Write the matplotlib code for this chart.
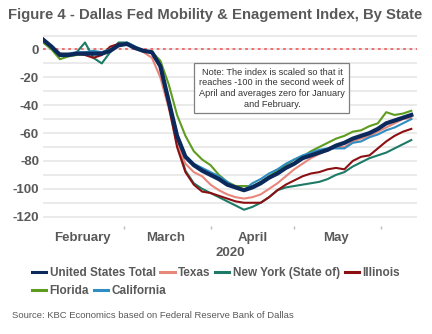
import numpy as np
import pandas as pd
import matplotlib
matplotlib.use("Agg")
import matplotlib.pyplot as plt
from matplotlib.lines import Line2D

# Data (every 3 days, starting Feb 1 2020)
dates = pd.date_range("2020-02-01", periods=45, freq="3D")

us_total = [7, 2, -4, -4, -3, -3, -3, -3, -1, 3, 4, 1, -1, -2, -12, -37, -62, -77, -83, -87,
            -90, -93, -97, -99, -101, -99, -96, -92, -89, -85, -82, -78, -76, -74, -72, -69,
            -67, -64, -62, -60, -57, -53, -51, -49, -47]
texas = [6, 2, -3, -4, -3, -2, -3, -3, 0, 3, 4, 1, -2, -6, -20, -42, -68, -82, -88, -91,
         -97, -101, -104, -106, -107, -106, -104, -100, -96, -91, -86, -82, -78, -75, -72, -70,
         -70, -66, -64, -62, -59, -56, -53, -50, -49]
new_york = [5, 1, -4, -4, -2, 5, -6, -10, -2, 5, 5, 2, -1, -2, -10, -38, -66, -87, -96, -100,
            -103, -106, -109, -112, -115, -113, -110, -106, -101, -99, -98, -97, -96, -95, -93, -90,
            -88, -84, -81, -78, -76, -74, -71, -68, -65]
illinois = [6, 2, -3, -3, -3, -4, -6, -4, 2, 4, 4, 1, -1, -2, -12, -40, -70, -88, -97, -102,
            -103, -105, -107, -109, -110, -110, -110, -106, -101, -97, -94, -91, -89, -88, -86, -85,
            -86, -80, -77, -76, -71, -66, -62, -59, -57]
florida = [5, 0, -7, -5, -4, -3, -3, -2, 0, 3, 4, 1, -1, -2, -8, -25, -47, -62, -73, -79,
           -83, -90, -95, -98, -98, -98, -95, -91, -87, -83, -79, -77, -73, -70, -67, -64,
           -62, -59, -58, -55, -53, -45, -47, -46, -44]
california = [6, 2, -3, -3, -2, -2, -1, -2, 0, 3, 5, 2, -1, -2, -12, -37, -62, -76, -82, -85,
              -88, -91, -95, -99, -101, -96, -93, -89, -86, -82, -79, -76, -74, -72, -71, -71,
              -71, -67, -66, -63, -61, -58, -56, -53, -50]

series = [
    ("United States Total", us_total, "#0b2a5b", 3.0, 10),
    ("Texas", texas, "#e8867c", 1.5, 5),
    ("New York (State of)", new_york, "#1d7a66", 1.5, 4),
    ("Illinois", illinois, "#8c0f12", 1.5, 6),
    ("Florida", florida, "#5e9c1f", 1.5, 7),
    ("California", california, "#2e8dc2", 1.5, 8),
]

grey = "#595959"
plt.rcParams["font.family"] = ["Liberation Sans", "DejaVu Sans"]

fig = plt.figure(figsize=(4.32, 3.34), dpi=100)
ax = fig.add_axes([0.10, 0.322, 0.865, 0.58])

for y in range(-120, 11, 10):
    ax.axhline(y, color="#e8e8e8", lw=1.3, zorder=0)
ax.axhline(0, color="#f06464", lw=1.3, ls=(0, (1.5, 2)), zorder=1)

for name, vals, col, lw, z in series:
    ax.plot(dates, vals, color=col, lw=lw, zorder=z)

ax.set_xlim(pd.Timestamp("2020-02-01"), pd.Timestamp("2020-06-14"))
ax.set_ylim(-127, 12)
ax.set_yticks(range(-120, 1, 20))
ax.set_yticklabels([str(v) for v in range(-120, 1, 20)], fontsize=9.5, fontweight="bold", color=grey)
ax.tick_params(axis="y", length=0, pad=3)

ax.set_xticks(pd.to_datetime(["2020-03-01", "2020-04-01", "2020-05-01", "2020-06-01"]))
ax.set_xticklabels([])
ax.set_xticks(pd.to_datetime(["2020-02-15", "2020-03-16", "2020-04-16", "2020-05-16"]), minor=True)
ax.set_xticklabels(["February", "March", "April", "May"], minor=True,
                   fontsize=9.5, fontweight="bold", color=grey)
ax.tick_params(axis="x", which="major", length=2, width=1, color="#bbbbbb")
ax.tick_params(axis="x", which="minor", length=0, pad=4)
for s in ax.spines.values():
    s.set_visible(False)

fig.text(0.532, 0.242, "2020", ha="center", va="center", fontsize=9.5, fontweight="bold", color=grey)

ax.text(0.612, 0.714,
        "Note: The index is scaled so that it\nreaches -100 in the second week of\n"
        "April and averages zero for January\nand February.",
        transform=ax.transAxes, ha="center", va="center", fontsize=6.6, color="#333333",
        linespacing=1.25,
        bbox=dict(boxstyle="square,pad=0.5", fc="white", ec="#7f7f7f", lw=0.9), zorder=20)

fig.text(0.018, 0.955, "Figure 4 - Dallas Fed Mobility & Enagement Index, By State",
         fontsize=10.7, fontweight="bold", color=grey, va="center")

handles = [Line2D([], [], color=c, lw=2.2) for _, _, c, _, _ in series]
labels = [n for n, _, _, _, _ in series]
leg_kw = dict(frameon=False, handlelength=1.2, handletextpad=0.3, columnspacing=0.4,
              borderaxespad=0, borderpad=0,
              prop=dict(size=8.5, weight="bold"), labelcolor=grey)
fig.legend(handles[:4], labels[:4], ncol=4, loc="upper left",
           bbox_to_anchor=(0.074, 0.2), **leg_kw)
fig.legend(handles[4:], labels[4:], ncol=2, loc="upper left",
           bbox_to_anchor=(0.074, 0.146), **leg_kw)

fig.text(0.027, 0.054, "Source: KBC Economics based on Federal Reserve Bank of Dallas",
         fontsize=6.8, color=grey, va="center")

fig.savefig("out.png", dpi=100)
